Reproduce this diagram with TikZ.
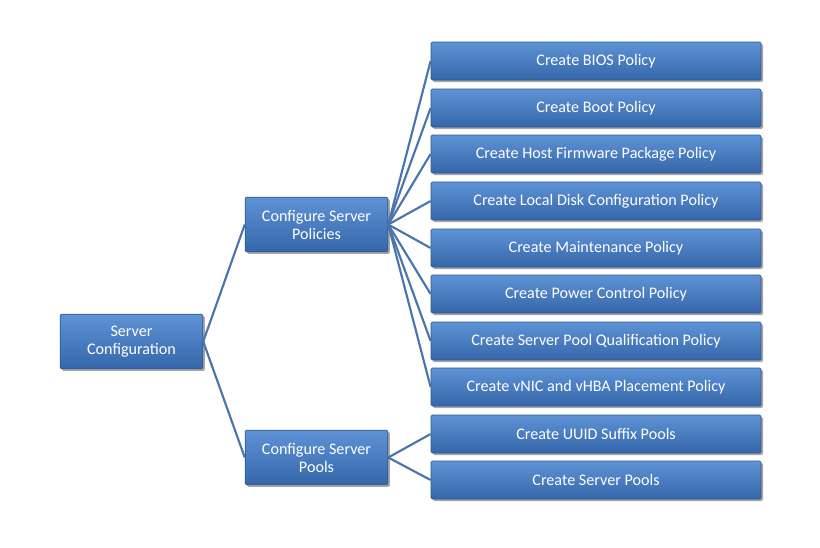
\documentclass[tikz,border=0pt]{standalone}
\usepackage{fontspec}
\setmainfont{Carlito}
\usetikzlibrary{shadows}
\begin{document}
\begin{tikzpicture}[x=0.75pt,y=-0.75pt,
  box/.style={line width=0.6pt, rounded corners=1pt,
    text=white, font=\fontsize{12.1}{13.5}\selectfont, align=center, inner sep=0pt,
    drop shadow={shadow xshift=1.5pt, shadow yshift=-1.5pt, fill=black, opacity=0.35}},
  mid/.style={box, minimum width=107pt, minimum height=41pt},
  leaf/.style={box, minimum width=247.5pt, minimum height=28.5pt},
  link/.style={draw=mylink, line width=1.6pt}]
\definecolor{mylink}{HTML}{4A74AC}
\tikzset{box/.append style={top color=boxtop, bottom color=boxbot, draw=boxedge}}
\definecolor{boxtop}{HTML}{5E93D6}
\definecolor{boxbot}{HTML}{3566AA}
\definecolor{boxedge}{HTML}{2E5A94}
\useasboundingbox (0,0) rectangle (820,547);
\node[mid] (root) at (131.5,341.5) {Server\\Configuration};
\node[mid] (pol) at (316.5,224.5) {Configure Server\\Policies};
\node[mid] (pool) at (316.5,457.5) {Configure Server\\Pools};
\foreach \n/\y/\t in {a/61/Create BIOS Policy, b/108/Create Boot Policy, c/154/Create Host Firmware Package Policy, d/201/Create Local Disk Configuration Policy, e/248/Create Maintenance Policy, f/294/Create Power Control Policy, g/341/Create Server Pool Qualification Policy, h/387/Create vNIC and vHBA Placement Policy, i/434/Create UUID Suffix Pools, j/480/Create Server Pools}
  \node[leaf] (\n) at (596,\y) {\t};
\draw[link] (root.east) -- (pol.west);
\draw[link] (root.east) -- (pool.west);
\foreach \n in {a,b,c,d,e,f,g,h} \draw[link] (pol.east) -- (\n.west);
\foreach \n in {i,j} \draw[link] (pool.east) -- (\n.west);
\end{tikzpicture}
\end{document}
